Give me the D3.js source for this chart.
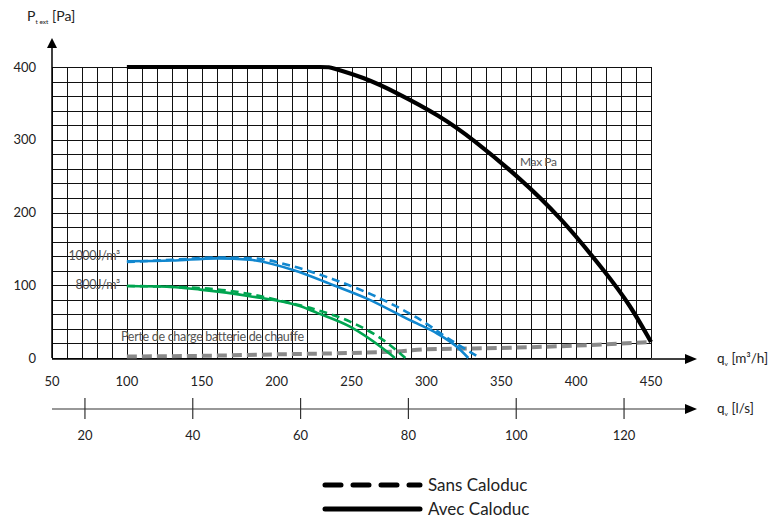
<!DOCTYPE html>
<html><head><meta charset="utf-8">
<script src="https://cdn.jsdelivr.net/npm/d3@7"></script>
<style>body{margin:0;background:#fff}svg{display:block;font-family:Lato,"Open Sans",sans-serif}</style>
</head><body><svg id="c" width="782" height="519"></svg>
<script>
// Data (qv in m3/h, P in Pa)
const maxPa = [[100,400],[200,400],[235,400],[235,400],[258,386],[280,365],[309,333],[331,301],[362,248],[389,195],[420,117],[436,73],[450,22]];
const blueAvec = [[100,133],[130,134],[160,137],[182,135],[211,121],[238,100],[260,82],[289,52],[307,34],[320,16],[328,0]];
const blueSans = [[100,132],[130,135],[160,138],[185,137],[211,126],[238,108],[271,80],[294,55],[316,25],[336,0]];
const greenAvec = [[100,99],[127,98],[149,94],[182,85],[216,71],[227,62],[249,43],[271,13],[279,0]];
const greenSans = [[100,99],[150,96],[182,88],[200,80],[227,66],[249,50],[271,25],[286,0]];
const perte = [[100,2],[150,3],[200,5],[250,7],[280,9],[300,12],[330,13],[400,17],[450,22]];
const xTicks = [50,100,150,200,250,300,350,400,450];
const yTicks = [0,100,200,300,400];
const lsTicks = [20,40,60,80,100,120];

const svg = d3.select("#c");
const x = d3.scaleLinear().domain([50,450]).range([52,651]);
const y = d3.scaleLinear().domain([0,400]).range([358,67]);

// grid
const g = svg.append("g").attr("shape-rendering","crispEdges");
g.selectAll("line.v").data(d3.range(50,451,10)).join("line")
  .attr("x1",d=>Math.round(x(d))+0.5).attr("x2",d=>Math.round(x(d))+0.5)
  .attr("y1",y(0)).attr("y2",y(400)).attr("stroke","#111").attr("stroke-width",1);
g.selectAll("line.h").data(d3.range(0,401,20)).join("line")
  .attr("y1",d=>Math.round(y(d))+0.5).attr("y2",d=>Math.round(y(d))+0.5)
  .attr("x1",x(50)).attr("x2",x(450)).attr("stroke","#111").attr("stroke-width",1);

// axes
const ax = svg.append("g");
ax.append("line").attr("x1",x(50)).attr("x2",x(50)).attr("y1",y(0)).attr("y2",46).attr("stroke","#000").attr("stroke-width",1.5);
ax.append("path").attr("d",`M${x(50)},38 L${x(50)-5},48 L${x(50)+5},48 Z`).attr("fill","#000");
ax.append("line").attr("x1",x(50)).attr("x2",686).attr("y1",y(0)+1).attr("y2",y(0)+1).attr("stroke","#000").attr("stroke-width",1.5);
ax.append("path").attr("d",`M697,${y(0)+1} L685,${y(0)-4} L685,${y(0)+6} Z`).attr("fill","#000");

// y tick labels
svg.selectAll("text.yt").data(yTicks).join("text").attr("x",36).attr("y",d=>y(d)+4.5)
  .attr("text-anchor","end").attr("font-size",13).attr("fill","#222").text(d=>d);
// x tick labels
svg.selectAll("text.xt").data(xTicks).join("text").attr("x",d=>x(d)).attr("y",386)
  .attr("text-anchor","middle").attr("font-size",13).attr("fill","#222").text(d=>d);

// l/s axis
const ly = 409;
const xls = d => x(d*3.6);
ax.append("line").attr("x1",x(50)).attr("x2",686).attr("y1",ly).attr("y2",ly).attr("stroke","#333").attr("stroke-width",1.2);
ax.append("path").attr("d",`M697,${ly} L685,${ly-5} L685,${ly+5} Z`).attr("fill","#000");
ax.selectAll("line.lt").data(lsTicks).join("line").attr("x1",d=>xls(d)).attr("x2",d=>xls(d))
  .attr("y1",398).attr("y2",419).attr("stroke","#333").attr("stroke-width",1.2);
svg.selectAll("text.lt").data(lsTicks).join("text").attr("x",d=>xls(d)).attr("y",440)
  .attr("text-anchor","middle").attr("font-size",13).attr("fill","#222").text(d=>d);

// axis titles
const t1 = svg.append("text").attr("x",27).attr("y",21).attr("font-size",14).attr("fill","#222");
t1.append("tspan").text("P");
t1.append("tspan").attr("font-size",6.5).attr("dy",3).text("t ext");
t1.append("tspan").attr("dy",-3).text(" [Pa]");
const t2 = svg.append("text").attr("x",717).attr("y",363).attr("font-size",13.5).attr("fill","#222");
t2.append("tspan").text("q");
t2.append("tspan").attr("font-size",6.5).attr("dy",3).text("v");
t2.append("tspan").attr("dy",-3).text(" [m³/h]");
const t3 = svg.append("text").attr("x",717).attr("y",413).attr("font-size",13.5).attr("fill","#222");
t3.append("tspan").text("q");
t3.append("tspan").attr("font-size",6.5).attr("dy",3).text("v");
t3.append("tspan").attr("dy",-3).text(" [l/s]");

// curves
const line = d3.line().x(d=>x(d[0])).y(d=>y(d[1])).curve(d3.curveMonotoneX);
const smooth = d3.line().x(d=>x(d[0])).y(d=>y(d[1])).curve(d3.curveBasis);
function draw(data,color,w,dash,gen){
  const p = svg.append("path").attr("d",(gen||line)(data)).attr("fill","none").attr("stroke",color).attr("stroke-width",w);
  if(dash) p.attr("stroke-dasharray",dash);
}
draw(perte,"#8a8a8a",4,"10,5");
draw(greenAvec,"#00a550",2.6);
draw(greenSans,"#00a550",2.6,"8,5");
draw(blueAvec,"#1187cf",2.6);
draw(blueSans,"#1187cf",2.6,"8,5");
draw(maxPa,"#000",4.2,null,smooth);

// curve labels
svg.append("text").attr("x",120).attr("y",260).attr("text-anchor","end").attr("font-size",12.5).attr("fill","#555").attr("letter-spacing",-0.3).text("1000J/m³");
svg.append("text").attr("x",120).attr("y",289).attr("text-anchor","end").attr("font-size",12.5).attr("fill","#555").attr("letter-spacing",-0.3).text("800J/m³");
svg.append("text").attr("x",121).attr("y",341).attr("font-size",12.5).attr("fill","#555").attr("letter-spacing",-0.3).text("Perte de charge batterie de chauffe");
svg.append("text").attr("x",520).attr("y",166).attr("font-size",12).attr("fill","#555").attr("letter-spacing",-0.4).text("Max Pa");

// legend
const lg = svg.append("g");
lg.append("line").attr("x1",325).attr("x2",420).attr("y1",485).attr("y2",485).attr("stroke","#000").attr("stroke-width",5).attr("stroke-linecap","round").attr("stroke-dasharray","16,12");
lg.append("line").attr("x1",325).attr("x2",420).attr("y1",509).attr("y2",509).attr("stroke","#000").attr("stroke-width",5).attr("stroke-linecap","round");
lg.append("text").attr("x",428).attr("y",491).attr("font-size",17).attr("fill","#222").text("Sans Caloduc");
lg.append("text").attr("x",428).attr("y",515).attr("font-size",17).attr("fill","#222").text("Avec Caloduc");
</script></body></html>
